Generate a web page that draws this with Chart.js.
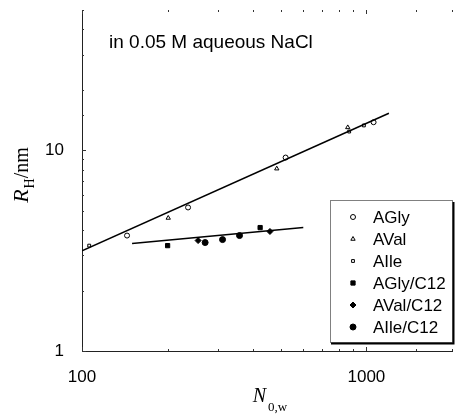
<!DOCTYPE html>
<html>
<head>
<meta charset="utf-8">
<script src="https://cdn.jsdelivr.net/npm/chart.js@4.4.0/dist/chart.umd.min.js"></script>
<style>
  html, body { margin: 0; padding: 0; background: #fff; }
</style>
</head>
<body>
<canvas id="chart" width="457" height="415"></canvas>
<script>
// Values (N_0,w , R_H in nm)
const aglyN = [144, 236, 520, 1060];
const aglyR = [3.76, 5.19, 9.2, 13.8];
const avalN = [201, 484, 860];
const avalR = [4.6, 8.1, 13.0];
const aileN = [106, 870, 980];
const aileR = [3.35, 12.4, 13.3];

const aglyC12N = [200, 423];
const aglyC12R = [3.35, 4.12];
const avalC12N = [256, 458];
const avalC12R = [3.55, 3.94];
const aileC12N = [271, 312, 358];
const aileC12R = [3.47, 3.59, 3.76];

// fitted power-law lines
const fitN = [100, 1200];
const fitR = [3.16, 15.3];
const fitC12N = [150, 600];
const fitC12R = [3.43, 4.12];

const xLabels = [100, 1000];
const yLabels = [1, 10];

const FONT = '"Liberation Sans", Arial, sans-serif';
const SERIF = '"Liberation Serif", "Times New Roman", serif';

const pts = (xs, ys) => xs.map((x, i) => ({ x: x, y: ys[i] }));

function markerSet(label, xs, ys, style, filled, r) {
  return {
    label: label,
    data: pts(xs, ys),
    showLine: false,
    pointStyle: style,
    pointRadius: r,
    pointBorderWidth: 1,
    pointBorderColor: '#000',
    pointBackgroundColor: filled ? '#000' : '#fff'
  };
}

function fitSet(xs, ys) {
  return {
    label: '',
    isFit: true,
    data: pts(xs, ys),
    showLine: true,
    borderColor: '#000',
    borderWidth: 1.5,
    pointRadius: 0
  };
}

// Legend box, annotation, axis titles and inward tick marks
const decorations = {
  id: 'decorations',
  afterDraw(chart) {
    const ctx = chart.ctx;
    const area = chart.chartArea;
    const xs = chart.scales.x, ys = chart.scales.y;

    ctx.save();
    // small inward ticks
    ctx.strokeStyle = '#333';
    ctx.lineWidth = 1;
    xs.ticks.forEach(t => {
      const px = Math.round(xs.getPixelForValue(t.value)) + 0.5;
      const len = xLabels.includes(t.value) ? 4 : 2;
      ctx.beginPath();
      ctx.moveTo(px, area.bottom); ctx.lineTo(px, area.bottom - len);
      ctx.moveTo(px, area.top); ctx.lineTo(px, area.top + len);
      ctx.stroke();
    });
    ys.ticks.forEach(t => {
      const py = Math.round(ys.getPixelForValue(t.value)) + 0.5;
      const len = yLabels.includes(t.value) ? 4 : 2;
      ctx.beginPath();
      ctx.moveTo(area.left, py); ctx.lineTo(area.left + len, py);
      ctx.stroke();
    });

    // annotation
    ctx.fillStyle = '#000';
    ctx.font = '19px ' + FONT;
    ctx.textBaseline = 'middle';
    ctx.textAlign = 'left';
    ctx.fillText('in 0.05 M aqueous NaCl', 109, 43);

    // x axis title N_0,w
    ctx.textBaseline = 'alphabetic';
    ctx.font = 'italic 20px ' + SERIF;
    const nW = ctx.measureText('N').width;
    ctx.font = '13px ' + SERIF;
    const sW = ctx.measureText('0,w').width;
    const cx = (area.left + area.right) / 2 + 3;
    let x0 = cx - (nW + sW + 2) / 2;
    ctx.font = 'italic 20px ' + SERIF;
    ctx.fillText('N', x0, 402);
    ctx.font = '13px ' + SERIF;
    ctx.fillText('0,w', x0 + nW + 2, 411);

    // y axis title R_H/nm
    ctx.translate(28, 175);
    ctx.rotate(-Math.PI / 2);
    ctx.font = 'italic 22px ' + SERIF;
    const rW = ctx.measureText('R').width;
    ctx.font = '14px ' + SERIF;
    const hW = ctx.measureText('H').width;
    ctx.font = '20px ' + SERIF;
    const nmW = ctx.measureText('/nm').width;
    let y0 = -(rW + hW + nmW + 1) / 2;
    ctx.font = 'italic 22px ' + SERIF;
    ctx.fillText('R', y0, 0);
    ctx.font = '14px ' + SERIF;
    ctx.fillText('H', y0 + rW + 1, 6);
    ctx.font = '20px ' + SERIF;
    ctx.fillText('/nm', y0 + rW + hW + 1, 0);
    ctx.restore();

    // legend
    ctx.save();
    const bx = 330, by = 200, bw = 122, bh = 142;
    ctx.fillStyle = '#fff';
    ctx.fillRect(bx, by, bw, bh);
    ctx.strokeStyle = '#000';
    ctx.lineWidth = 1;
    ctx.setLineDash([1, 1]);
    ctx.strokeRect(bx + 0.5, by + 0.5, bw, bh);
    ctx.setLineDash([]);
    ctx.lineWidth = 2;
    ctx.beginPath();
    ctx.moveTo(bx + 1, by + bh + 1.5);
    ctx.lineTo(bx + bw + 1.5, by + bh + 1.5);
    ctx.lineTo(bx + bw + 1.5, by + 2);
    ctx.stroke();

    ctx.font = '17px ' + FONT;
    ctx.textBaseline = 'middle';
    ctx.fillStyle = '#000';
    const items = chart.data.datasets.filter(d => !d.isFit);
    items.forEach((d, i) => {
      const iy = by + 17 + i * 22;
      ctx.fillStyle = d.pointBackgroundColor;
      ctx.strokeStyle = '#000';
      ctx.lineWidth = 1;
      Chart.helpers.drawPoint(ctx, {
        pointStyle: d.pointStyle,
        radius: d.pointRadius,
        rotation: 0,
        borderWidth: 1
      }, bx + 23, iy);
      ctx.fillStyle = '#000';
      ctx.fillText(d.label, bx + 43, iy + 1);
    });
    ctx.restore();
  }
};

new Chart(document.getElementById('chart'), {
  type: 'scatter',
  data: {
    datasets: [
      fitSet(fitN, fitR),
      fitSet(fitC12N, fitC12R),
      markerSet('AGly', aglyN, aglyR, 'circle', false, 2.5),
      markerSet('AVal', avalN, avalR, 'triangle', false, 2.5),
      markerSet('AIle', aileN, aileR, 'rect', false, 2),
      markerSet('AGly/C12', aglyC12N, aglyC12R, 'rect', true, 3),
      markerSet('AVal/C12', avalC12N, avalC12R, 'rectRot', true, 3),
      markerSet('AIle/C12', aileC12N, aileC12R, 'circle', true, 3)
    ]
  },
  options: {
    responsive: false,
    animation: false,
    devicePixelRatio: 1,
    events: [],
    layout: { padding: { top: 10, right: 0, left: 0, bottom: 0 } },
    plugins: {
      legend: { display: false },
      tooltip: { enabled: false }
    },
    scales: {
      x: {
        type: 'logarithmic',
        min: 100,
        max: 2000,
        grid: { display: false },
        border: { display: true, dash: [1, 1], color: '#222', width: 1 },
        ticks: {
          autoSkip: false,
          maxRotation: 0,
          padding: 8,
          color: '#000',
          font: { family: FONT, size: 17 },
          callback: v => xLabels.includes(v) ? String(v) : ''
        },
        afterFit: s => { s.height = 64; s.paddingLeft = 0; s.paddingRight = 0; }
      },
      y: {
        type: 'logarithmic',
        min: 1,
        max: 50,
        grid: { display: false },
        border: { display: true, dash: [1, 1], color: '#222', width: 1 },
        ticks: {
          autoSkip: false,
          padding: 10,
          color: '#000',
          font: { family: FONT, size: 17 },
          callback: v => yLabels.includes(v) ? String(v) : ''
        },
        afterFit: s => { s.width = 82; s.paddingTop = 0; s.paddingBottom = 0; }
      }
    }
  },
  plugins: [decorations]
});
</script>
</body>
</html>
